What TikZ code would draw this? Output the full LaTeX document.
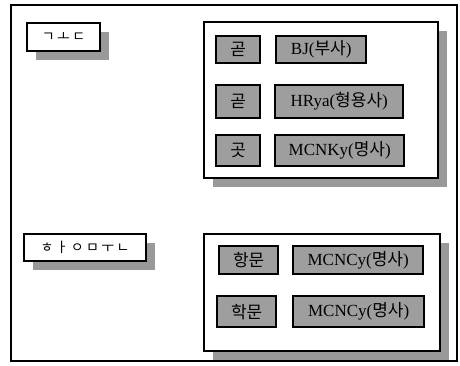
\documentclass[tikz,border=0pt]{standalone}
\usepackage{fontspec}
\setmainfont{Liberation Serif}
\newfontfamily\kr{Noto Sans CJK KR}
\usetikzlibrary{shadows}

\begin{document}
\begin{tikzpicture}[x=1pt,y=-1pt,
  frame/.style={draw,line width=2pt,fill=white,anchor=north west,inner sep=0pt,
    drop shadow={shadow xshift=9pt,shadow yshift=-9pt,fill=black!40,opacity=1}},
  tag/.style={draw,line width=2.4pt,fill=black!38,anchor=north west,inner sep=0pt,
    font=\fontsize{17}{18}\selectfont},
  jamo/.style={font=\kr\fontsize{14}{15}\selectfont}]
\useasboundingbox (0,0) rectangle (460,366);
\draw[line width=1.5pt] (11,5) rectangle (457,361);

% upper group
\node[frame,jamo,minimum width=73pt,minimum height=28pt] (sound1) at (26,22) {ㄱ\,ㅗ\,ㄷ};
\node[frame,minimum width=234pt,minimum height=156pt] (words1) at (203,21) {};
\node[tag,minimum width=44pt,minimum height=27pt] (w1) at (215,35) {\kr 곧};
\node[tag,minimum width=90pt,minimum height=27pt] (p1) at (275,35) {BJ({\kr 부사})};
\node[tag,minimum width=44pt,minimum height=33pt] (w2) at (215,84) {\kr 곧};
\node[tag,minimum width=128pt,minimum height=33pt] (p2) at (274,84) {HRya({\kr 형용사})};
\node[tag,minimum width=44pt,minimum height=31pt] (w3) at (215,134) {\kr 곳};
\node[tag,minimum width=129pt,minimum height=31pt] (p3) at (274,134) {MCNKy({\kr 명사})};

% lower group
\node[frame,jamo,minimum width=122pt,minimum height=27pt] (sound2) at (23,233) {ㅎ\,ㅏ\,ㅇ\,ㅁ\,ㅜ\,ㄴ};
\node[frame,minimum width=236pt,minimum height=117pt] (words2) at (203,233) {};
\node[tag,minimum width=59pt,minimum height=28pt] (w4) at (218,245) {\kr 항문};
\node[tag,minimum width=130pt,minimum height=28pt] (p4) at (292,245) {MCNCy({\kr 명사})};
\node[tag,minimum width=59pt,minimum height=31pt] (w5) at (216,295) {\kr 학문};
\node[tag,minimum width=131pt,minimum height=31pt] (p5) at (292,295) {MCNCy({\kr 명사})};
\end{tikzpicture}
\end{document}
